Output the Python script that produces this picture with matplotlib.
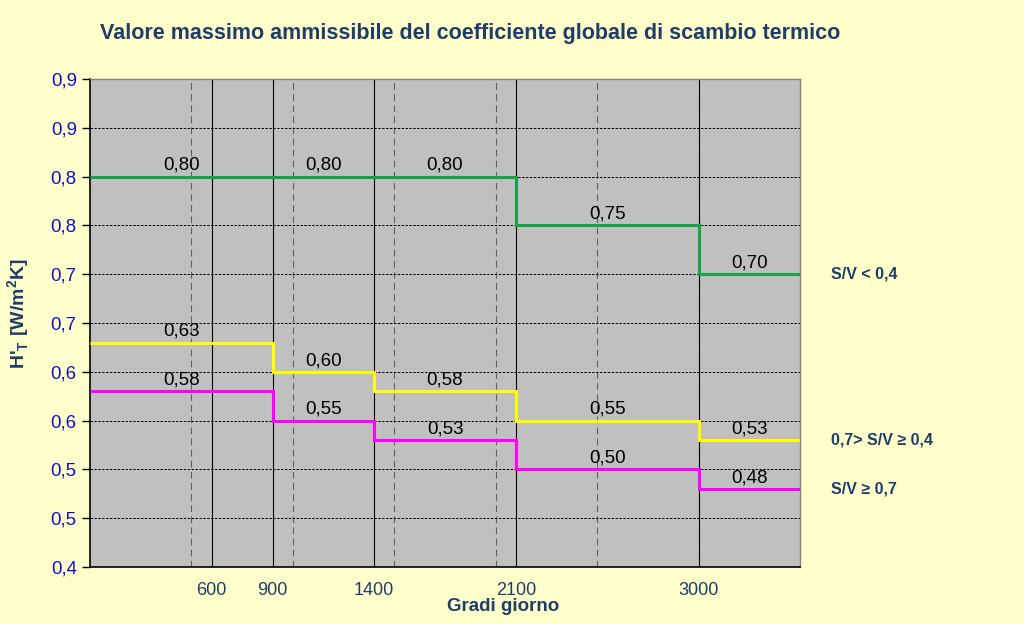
import matplotlib.pyplot as plt
from matplotlib.transforms import blended_transform_factory

# gradi giorno boundaries of the steps
bounds = [0, 900, 1400, 2100, 3000, 3500]
ref_lines = [600, 900, 1400, 2100, 3000]
xtick_labels = ["600", "900", "1400", "2100", "3000"]

# H'T limits for each interval
sv_low = [0.80, 0.80, 0.80, 0.75, 0.70]
sv_mid = [0.63, 0.60, 0.58, 0.55, 0.53]
sv_high = [0.58, 0.55, 0.53, 0.50, 0.48]
series_names = ["S/V < 0,4", "0,7> S/V \u2265 0,4", "S/V \u2265 0,7"]

yticks = [0.40, 0.45, 0.50, 0.55, 0.60, 0.65, 0.70, 0.75, 0.80, 0.85, 0.90]
ytick_labels = ["0,4", "0,5", "0,5", "0,6", "0,6", "0,7", "0,7", "0,8", "0,8", "0,9", "0,9"]

BG = "#FFFFCC"
NAVY = "#1F3D6B"
plt.rcParams["font.family"] = ["Liberation Sans", "DejaVu Sans"]

fig = plt.figure(figsize=(10.24, 6.24), dpi=100, facecolor=BG)
ax = fig.add_axes([0.0879, 0.0913, 0.6934, 0.7821])
ax.set_facecolor("#C0C0C0")

ax.set_xlim(bounds[0], bounds[-1])
ax.set_ylim(yticks[0], yticks[-1])

# grid: dashed verticals every 500, dotted horizontals at the ticks
for x in range(500, 3500, 500):
    ax.axvline(x, color="#606060", lw=0.8, ls=(0, (6, 4)), zorder=1)
for y in yticks[1:-1]:
    ax.axhline(y, color="black", lw=0.7, ls=(0, (2.5, 1.5)), zorder=1)
for x in ref_lines:
    ax.axvline(x, color="black", lw=0.8, zorder=2)

colors = ["#1BA04A", "#FFFF00", "#FF00FF"]
tr = blended_transform_factory(ax.transAxes, ax.transData)
for vals, col, name in zip([sv_low, sv_mid, sv_high], colors, series_names):
    ax.stairs(vals, bounds, color=col, lw=2.2, baseline=None, zorder=3)
    for i, v in enumerate(vals):
        xm = (bounds[i] + bounds[i + 1]) / 2
        ax.annotate(f"{v:.2f}".replace(".", ","), (xm, v), xytext=(0, 2),
                    textcoords="offset points", ha="center", va="bottom",
                    fontsize=13.5, color="black", zorder=4)
    ax.annotate(name, (1, vals[-1]), xycoords=tr, xytext=(22, 0),
                textcoords="offset points", ha="left", va="center",
                fontsize=11.5, fontweight="bold", color=NAVY,
                annotation_clip=False)

ax.set_yticks(yticks)
ax.set_yticklabels(ytick_labels)
ax.tick_params(axis="y", colors="black", labelcolor="#1010CC", labelsize=13.5,
               length=6, width=1, direction="out")
ax.set_xticks(ref_lines)
ax.set_xticklabels(xtick_labels)
ax.tick_params(axis="x", length=0, pad=11, labelsize=13, labelcolor=NAVY)

for side in ["left", "bottom"]:
    ax.spines[side].set_color("black")
    ax.spines[side].set_linewidth(1.2)
for side in ["top", "right"]:
    ax.spines[side].set_color("#808080")
    ax.spines[side].set_linewidth(1.0)

ax.set_ylabel("H'$_\\mathregular{T}$ [W/m$^\\mathregular{2}$K]", color=NAVY,
              fontsize=14, fontweight="bold")
ax.yaxis.set_label_coords(-0.082, 0.52)
ax.set_xlabel("Gradi giorno", color=NAVY, fontsize=13.5, fontweight="bold")
ax.xaxis.set_label_coords(0.582, -0.064)

fig.text(0.459, 0.947, "Valore massimo ammissibile del coefficiente globale di scambio termico",
         ha="center", va="center", fontsize=15.5, fontweight="bold", color=NAVY)

fig.savefig("out.png", dpi=100, facecolor=BG)
